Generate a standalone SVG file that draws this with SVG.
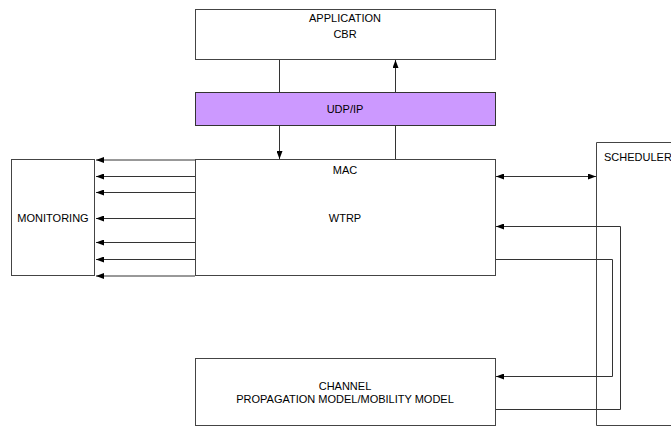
<svg xmlns="http://www.w3.org/2000/svg" width="671" height="427" viewBox="0 0 671 427">
  <style>
    .box { fill: #ffffff; stroke: #444444; stroke-width: 1; }
    .udp { fill: #cc99ff; stroke: #333333; stroke-width: 1; }
    .lbl { font-family: "Liberation Sans", Arial, sans-serif; font-size: 11px; fill: #000000; text-anchor: middle; }
    .wire { fill: none; stroke: #333333; stroke-width: 1; }
  </style>
  <defs>
    <marker id="arrow" viewBox="0 0 8 6" refX="8" refY="3" markerWidth="8" markerHeight="6" markerUnits="userSpaceOnUse" orient="auto-start-reverse">
      <path d="M0,0 L8,3 L0,6 Z" fill="#000000"/>
    </marker>
  </defs>

  <rect width="671" height="427" fill="#ffffff"/>

  <g id="application">
    <rect class="box" x="195.5" y="9.5" width="300" height="50"/>
    <text class="lbl" x="345" y="22">APPLICATION</text>
    <text class="lbl" x="345" y="38">CBR</text>
  </g>

  <g id="udp-ip">
    <rect class="udp" x="195.5" y="92.5" width="300" height="33"/>
    <text class="lbl" x="345" y="113">UDP/IP</text>
  </g>

  <g id="mac-wtrp">
    <rect class="box" x="195.5" y="159.5" width="300" height="116"/>
    <text class="lbl" x="345" y="174">MAC</text>
    <text class="lbl" x="345" y="222">WTRP</text>
  </g>

  <g id="monitoring">
    <rect class="box" x="11.5" y="159.5" width="83" height="116"/>
    <text class="lbl" x="53" y="222">MONITORING</text>
  </g>

  <g id="scheduler">
    <path class="box" d="M680,142.5 H596.5 V425.5 H680"/>
    <text class="lbl" x="604" y="161" text-anchor="start" style="text-anchor:start">SCHEDULER</text>
  </g>

  <g id="channel">
    <rect class="box" x="195.5" y="358.5" width="300" height="67"/>
    <text class="lbl" x="345" y="390">CHANNEL</text>
    <text class="lbl" x="345" y="403">PROPAGATION MODEL/MOBILITY MODEL</text>
  </g>

  <g id="connectors">
    <!-- application <-> UDP/IP -->
    <line class="wire" x1="279.5" y1="60" x2="279.5" y2="92"/>
    <line class="wire" x1="395.5" y1="92" x2="395.5" y2="60" marker-end="url(#arrow)"/>
    <!-- UDP/IP <-> MAC -->
    <line class="wire" x1="279.5" y1="126" x2="279.5" y2="159" marker-end="url(#arrow)"/>
    <line class="wire" x1="395.5" y1="159" x2="395.5" y2="126"/>

    <!-- MAC -> monitoring taps -->
    <line class="wire" x1="195" y1="160" x2="96" y2="160" marker-end="url(#arrow)"/>
    <line class="wire" x1="195" y1="176.5" x2="96" y2="176.5" marker-end="url(#arrow)"/>
    <line class="wire" x1="195" y1="192.5" x2="96" y2="192.5" marker-end="url(#arrow)"/>
    <line class="wire" x1="195" y1="218.5" x2="96" y2="218.5" marker-end="url(#arrow)"/>
    <line class="wire" x1="195" y1="242.5" x2="96" y2="242.5" marker-end="url(#arrow)"/>
    <line class="wire" x1="195" y1="259.5" x2="96" y2="259.5" marker-end="url(#arrow)"/>
    <line class="wire" x1="195" y1="276" x2="96" y2="276" marker-end="url(#arrow)"/>

    <!-- MAC <-> scheduler -->
    <line class="wire" x1="496" y1="176.5" x2="596" y2="176.5" marker-start="url(#arrow)" marker-end="url(#arrow)"/>

    <!-- channel -> MAC -->
    <polyline class="wire" points="496,409.5 620.5,409.5 620.5,226.5 496,226.5" marker-end="url(#arrow)"/>
    <!-- MAC -> channel -->
    <polyline class="wire" points="496,259.5 612.5,259.5 612.5,376.5 496,376.5" marker-end="url(#arrow)"/>
  </g>
</svg>
